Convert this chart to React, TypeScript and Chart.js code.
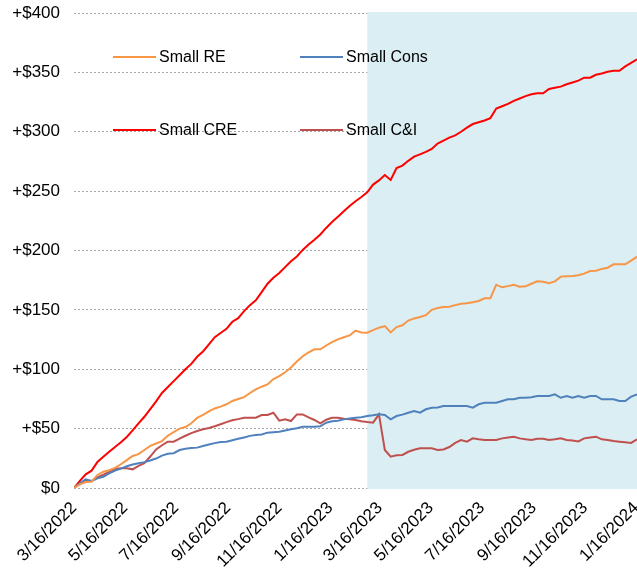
import React, { useEffect, useRef } from "react";
import { Chart, registerables } from "chart.js";

Chart.register(...registerables);

const startDate = "3/16/2022";
const tickLabels = [
  "3/16/2022", "5/16/2022", "7/16/2022", "9/16/2022", "11/16/2022", "1/16/2023",
  "3/16/2023", "5/16/2023", "7/16/2023", "9/16/2023", "11/16/2023", "1/16/2024",
];
const shadeStartDate = "3/1/2023";

const seriesNames = ["Small RE", "Small Cons", "Small CRE", "Small C&I"];
const seriesColors = ["#F79646", "#4F81BD", "#FF0000", "#C0504D"];

const smallRE = [
  0, 3, 5, 5.3, 11, 13.7, 15, 17, 20, 23.5, 27, 28.5, 32, 35.5, 37.5, 39.5, 44, 47, 50, 51.3,
  54.5, 59, 61.5, 64.5, 67, 68.5, 70.5, 73.3, 75, 76.5, 80, 83, 85.3, 87.2, 91.7, 94.2, 97.5, 101.5, 106.5, 111,
  114.2, 116.8, 116.8, 120, 122.8, 125.2, 127, 128.5, 132.5, 131, 130.8, 133, 135, 136.4, 131, 135.5, 137, 141, 142.8, 144,
  145.5, 150, 151.5, 152.4, 152.7, 154, 155.2, 155.5, 156.5, 157.5, 159.8, 159.8, 171.2, 169, 170, 171.2, 169.5, 169.8, 172, 174,
  173.7, 172.5, 174, 178, 178.3, 178.5, 179.2, 180.5, 182.7, 183, 184.5, 185.5, 188.4, 188.4, 188.4, 191.5, 194.8,
];

const smallCons = [
  0, 4, 7.3, 6, 8.2, 9.5, 12.3, 14.7, 16.3, 18.3, 19.8, 20.8, 21.8, 23.2, 24.8, 27.3, 28.8, 29.3, 32, 33,
  33.6, 34, 35.3, 36.6, 37.8, 38.8, 39, 40.2, 41.4, 42.6, 43.9, 44.6, 45, 46.6, 47, 47.4, 48.5, 49.5, 50.3, 51.5,
  51.6, 51.6, 52, 55, 56.2, 56.6, 57.8, 58.5, 59.1, 59.6, 60.6, 61.2, 62, 61.5, 57.8, 60.6, 61.8, 63.3, 64.8, 63.4,
  66.3, 67.6, 67.8, 69, 69, 69, 69, 69, 67.6, 70.5, 71.8, 71.8, 71.8, 73.3, 74.7, 74.7, 76, 76, 76.5, 77.5,
  77.5, 77.5, 78.9, 76, 77.5, 76, 77.5, 76, 77.5, 77.5, 74.7, 74.7, 74.7, 73.3, 73.3, 76.9, 78.9,
];

const smallCRE = [
  0, 6, 11.5, 14.6, 22, 26.3, 30.5, 34.6, 38.5, 43, 48.5, 54.5, 60, 66.5, 73, 80, 85, 90, 95, 100,
  104.5, 110.5, 115, 121, 127, 130.5, 134, 140, 143, 149, 154, 158, 165, 172, 177, 181, 186, 191, 195, 200.5,
  205, 209, 213.5, 219, 224, 228.5, 233, 237.5, 241.5, 245, 249, 255.5, 259, 263.6, 259.4, 269.5, 271.5, 275.5, 279, 281,
  283, 285.5, 290, 292.5, 295, 297, 300, 303.5, 306.5, 308, 309.5, 311.5, 319.5, 321.5, 323.5, 326, 328, 330, 331.5, 332.4,
  332.4, 336, 337, 338, 340, 341.5, 343, 345.5, 345.5, 348, 349, 350.5, 351.4, 351.4, 355, 358, 361,
];

const smallCI = [
  0, 4, 5.9, 5.9, 9, 11.2, 13.5, 16, 16.6, 16.6, 15.7, 18.6, 21, 26.5, 32.5, 36, 39, 39, 41.6, 44,
  46.2, 48, 49.4, 50.6, 52, 53.7, 55.5, 57, 58, 59.1, 59.2, 59.2, 61.5, 61.5, 63.4, 56.7, 57.8, 56.4, 62, 62,
  59.4, 57.3, 54.5, 57.5, 59.2, 59.2, 58.3, 57.8, 57.3, 56.2, 55.5, 55, 62, 32, 26.4, 27.5, 27.8, 30.5, 32.2, 33.4,
  33.4, 33.4, 32, 32.4, 34.5, 38, 40.4, 39, 41.8, 41, 40.4, 40.4, 40.4, 41.8, 42.5, 43.2, 41.8, 41, 40.4, 41.5,
  41.5, 40.4, 41, 41.8, 40.4, 40, 39.2, 41.8, 42.5, 43.2, 41, 40.4, 39.5, 39, 38.5, 38, 41,
];

const seriesValues = [smallRE, smallCons, smallCRE, smallCI];

const FONT = "'Liberation Sans', Arial, sans-serif";

function dayOffset(s: string): number {
  const [m, d, y] = s.split("/").map(Number);
  const [m0, d0, y0] = startDate.split("/").map(Number);
  return Math.round((Date.UTC(y, m - 1, d) - Date.UTC(y0, m0 - 1, d0)) / 86400000);
}

const tickDays = tickLabels.map(dayOffset);

const shadePlugin = {
  id: "shade",
  beforeDatasetsDraw(chart: any) {
    const { ctx, chartArea, scales } = chart;
    const x0 = scales.x.getPixelForValue(dayOffset(shadeStartDate));
    ctx.save();
    ctx.fillStyle = "#DAEEF3";
    ctx.fillRect(x0, chartArea.top - 1, chart.width - x0, chartArea.bottom - chartArea.top + 2);
    ctx.restore();
  },
};

const legendPlugin = {
  id: "customLegend",
  afterDraw(chart: any) {
    const { ctx } = chart;
    const cols = [113, 300];
    const rows = [57, 130];
    ctx.save();
    ctx.font = `16px ${FONT}`;
    ctx.textBaseline = "middle";
    ctx.textAlign = "left";
    seriesNames.forEach((name, i) => {
      const cx = cols[i % 2];
      const cy = rows[Math.floor(i / 2)];
      ctx.strokeStyle = seriesColors[i];
      ctx.lineWidth = 2;
      ctx.beginPath();
      ctx.moveTo(cx, cy);
      ctx.lineTo(cx + 43, cy);
      ctx.stroke();
      ctx.fillStyle = "#000";
      ctx.fillText(name, cx + 46, cy + 1);
    });
    ctx.restore();
  },
};

export default function App() {
  const ref = useRef<HTMLCanvasElement | null>(null);
  useEffect(() => {
    if (!ref.current) return;
    const chart = new Chart(ref.current, {
      type: "line",
      data: {
        datasets: seriesNames.map((name, i) => ({
          label: name,
          data: seriesValues[i].map((v, k) => ({ x: k * 7, y: v })),
          borderColor: seriesColors[i],
          backgroundColor: seriesColors[i],
          borderWidth: 2,
          pointRadius: 0,
          tension: 0,
          fill: false,
        })),
      },
      options: {
        animation: false,
        responsive: false,
        devicePixelRatio: 1,
        layout: { padding: { top: 13, right: 0, left: 0, bottom: 0 } },
        plugins: { legend: { display: false }, tooltip: { enabled: false } },
        scales: {
          x: {
            type: "linear",
            min: 0,
            max: 672,
            grid: { display: false },
            border: { display: false },
            afterBuildTicks(scale: any) {
              scale.ticks = tickDays.map((v) => ({ value: v }));
            },
            afterFit(scale: any) {
              scale.height = 85;
              scale.paddingLeft = 0;
              scale.paddingRight = 0;
            },
            ticks: {
              autoSkip: false,
              minRotation: 45,
              maxRotation: 45,
              padding: 2,
              color: "#000",
              font: { family: FONT, size: 17 },
              callback(value: any) {
                const idx = tickDays.indexOf(Number(value));
                return idx >= 0 ? tickLabels[idx] : "";
              },
            },
          },
          y: {
            min: 0,
            max: 400,
            grid: { color: "#A6A6A6", lineWidth: 1, drawTicks: false },
            border: { display: false, dash: [2, 2] },
            afterFit(scale: any) {
              scale.width = 74;
              scale.paddingTop = 0;
              scale.paddingBottom = 0;
            },
            ticks: {
              stepSize: 50,
              padding: 14,
              color: "#000",
              font: { family: FONT, size: 17 },
              callback(value: any) {
                return Number(value) === 0 ? "$0" : "+$" + value;
              },
            },
          },
        },
      },
      plugins: [shadePlugin, legendPlugin],
    });
    return () => chart.destroy();
  }, []);
  return (
    <div style={{ position: "fixed", left: 0, top: 0, width: 637, height: 573, background: "#fff" }}>
      <canvas ref={ref} width={637} height={573} style={{ width: 637, height: 573, display: "block" }} />
    </div>
  );
}
